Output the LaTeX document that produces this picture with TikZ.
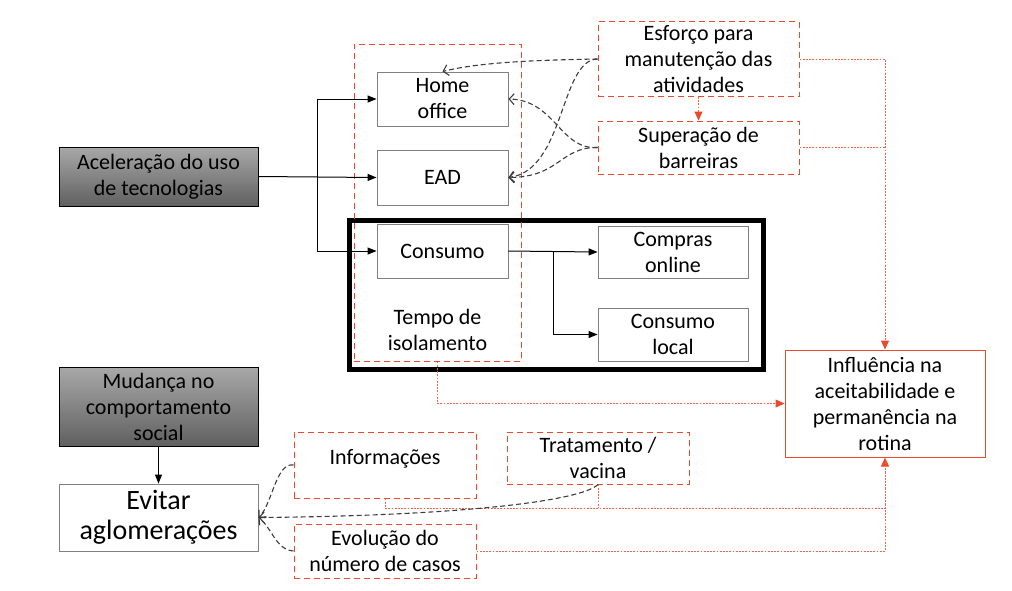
\documentclass[tikz,border=0pt]{standalone}
\usepackage{fontspec}
\setmainfont{Carlito}
\usetikzlibrary{arrows.meta}
\definecolor{redc}{RGB}{236,72,44}
\definecolor{boxgray}{RGB}{128,128,128}
\definecolor{dashgray}{RGB}{60,60,60}
\tikzset{
  txt/.style={font=\fontsize{22}{26}\selectfont, align=center, inner sep=0pt},
  wbox/.style={txt, draw=boxgray, line width=0.9pt, fill=white},
  gbox/.style={txt, draw=black, line width=0.9pt, top color={rgb,255:red,168;green,168;blue,168}, bottom color={rgb,255:red,96;green,96;blue,96}},
  rbox/.style={txt, draw=redc, line width=1pt, dash pattern=on 6pt off 4pt},
  rsolid/.style={txt, draw=redc, line width=1pt},
  solidarrow/.style={draw=black, line width=1pt, -{Triangle[length=9pt,width=7pt]}},
  reddot/.style={draw=redc!85!white, line width=1pt, dash pattern=on 1.8pt off 1.4pt},
  reddotarrow/.style={reddot, -{Triangle[length=9pt,width=8pt,fill=redc,color=redc]}},
  bdash/.style={draw=dashgray, line width=1.1pt, dash pattern=on 5pt off 3pt, -{Straight Barb[length=5pt,width=11pt]}},
}
\begin{document}
\begin{tikzpicture}[x=1pt,y=-1pt]
\useasboundingbox (0,0) rectangle (1012,590);
% thick black frame
\draw[line width=5pt] (349.5,220.5) rectangle (763,369.5);
% red dashed container
\node[rbox, minimum width=167pt, minimum height=317pt] (tempo) at (437.5,202.5) {};
\node[txt] (tempotxt) at (437.5,330) {Tempo de\\isolamento};
% left gray boxes
\node[gbox, minimum width=199pt, minimum height=59pt] (acel) at (158.5,176.5) {Aceleração do uso\\de tecnologias};
\node[gbox, minimum width=199pt, minimum height=79pt] (mud) at (158.5,406.5) {Mudança no\\comportamento\\social};
\node[wbox, font=\fontsize{28}{30}\selectfont, minimum width=199pt, minimum height=67pt] (evit) at (158.5,517.5) {Evitar\\aglomerações};
% inner boxes
\node[wbox, minimum width=131pt, minimum height=54pt] (home) at (442.5,99) {Home\\office};
\node[wbox, minimum width=131pt, minimum height=55pt] (ead) at (442.5,177.5) {EAD};
\node[wbox, minimum width=131pt, minimum height=54pt] (cons) at (442.5,251) {Consumo};
\node[wbox, minimum width=150pt, minimum height=52pt] (compras) at (673,252) {Compras\\online};
\node[wbox, minimum width=150pt, minimum height=53pt] (local) at (673,334.5) {Consumo\\local};
% right red boxes
\node[rbox, minimum width=201pt, minimum height=75pt] (esf) at (698.5,59) {Esforço para\\manutenção das\\atividades};
\node[rbox, minimum width=201pt, minimum height=53pt] (sup) at (698.5,147.5) {Superação de\\barreiras};
\node[rsolid, minimum width=200pt, minimum height=107pt] (infl) at (885,403.5) {Influência na\\aceitabilidade e\\permanência na\\rotina};
% bottom red boxes
\node[rbox, minimum width=182pt, minimum height=66pt, text height=15pt, text depth=17pt] (info) at (385,465) {Informações};
\node[rbox, minimum width=182pt, minimum height=52pt] (trat) at (598,458) {Tratamento /\\vacina};
\node[rbox, minimum width=182pt, minimum height=54pt] (evol) at (385,551) {Evolução do\\número de casos};
% solid connectors
\coordinate (j1) at (317,176.5);
\coordinate (j2) at (553,251);
\draw[solidarrow] (acel.east) -- (ead.west);
\draw[solidarrow] (j1) |- (home.west);
\draw[solidarrow] (j1) |- (cons.west);
\draw[solidarrow] (cons.east) -- (compras.west);
\draw[solidarrow] (j2) |- (local.west);
\draw[solidarrow] (mud.south) -- (evit.north);
% red dotted connectors
\draw[reddotarrow] (esf.south) -- (sup.north);
\draw[reddotarrow] (esf.east) -| (infl.north);
\draw[reddot] (sup.east) -- (sup.east -| infl.north);
\draw[reddotarrow] (tempo.south) |- (infl.west);
\coordinate (jb) at (385,508);
\draw[reddotarrow] (info.south) -- (jb) -| (infl.south);
\draw[reddot] (trat.south) -- (trat.south |- jb);
\draw[reddot] (evol.east) -| (infl.south);
% black dashed curves
\draw[bdash] (esf.west) .. controls (540,60) and (480,62) .. (home.north);
\draw[bdash] (esf.west) .. controls (560,60) and (565,170) .. (ead.east);
\draw[bdash] (sup.west) .. controls (560,150) and (555,100) .. (home.east);
\draw[bdash] (sup.west) .. controls (560,147) and (560,177) .. (ead.east);
\draw[bdash] (info.west) .. controls (276,462) and (272,505) .. (evit.east);
\draw[bdash] (evol.west) .. controls (276,550) and (272,528) .. (evit.east);
\draw[bdash] (trat.south) .. controls (580,502) and (450,516) .. (evit.east);
\end{tikzpicture}
\end{document}
